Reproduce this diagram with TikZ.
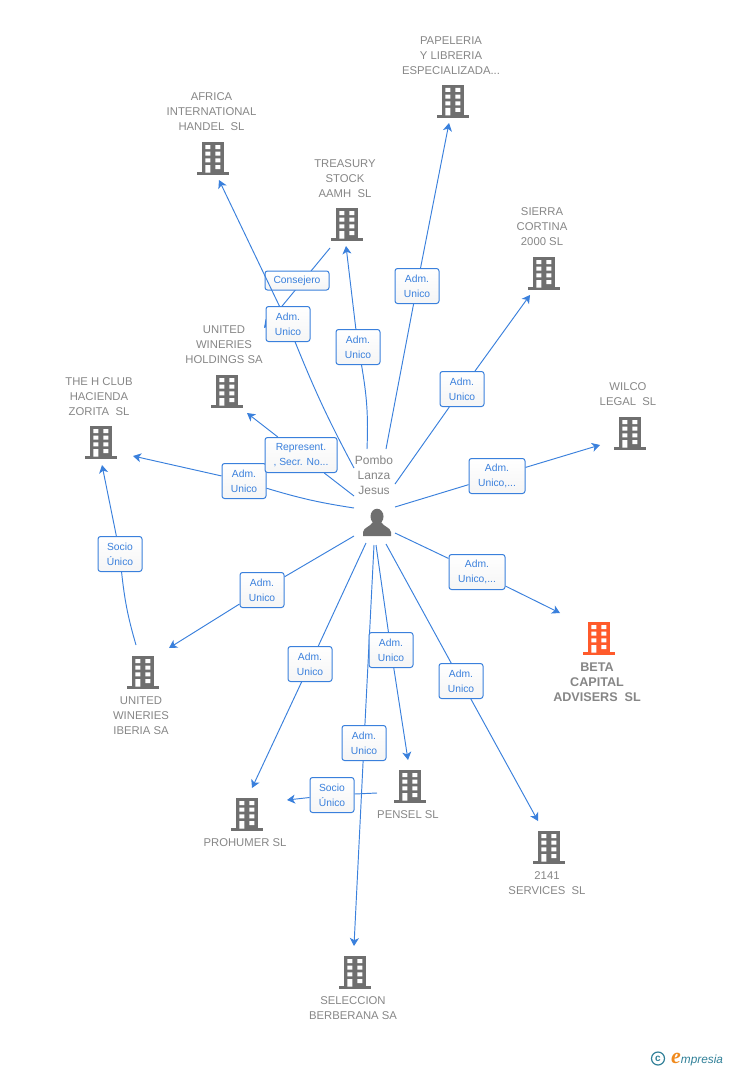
\documentclass[tikz,border=0pt]{standalone}
\usepackage{fontspec}
\setmainfont{Liberation Sans}
\newfontfamily\logofont{Liberation Serif}
\usepackage{xcolor}
\usetikzlibrary{arrows.meta,backgrounds}
\definecolor{linkblue}{HTML}{3A80DC}
\definecolor{bldggrey}{HTML}{6F6F6F}
\definecolor{textgrey}{HTML}{868686}
\definecolor{bldgorange}{HTML}{FF5A2B}
\definecolor{logoteal}{HTML}{2F7F97}
\definecolor{logoorange}{HTML}{F08A1D}
\tikzset{
  link/.style={draw=linkblue, line width=.95pt},
  tolink/.style={link, -{Stealth[length=8pt,width=9pt,inset=2.2pt]}},
  rel/.style={draw=linkblue, line width=1pt, rounded corners=2.5pt, top color=white, bottom color=white!96!black,
    text=linkblue, align=center, inner sep=0pt, minimum height=35pt, minimum width=44pt,
    font=\fontsize{10.3}{15}\selectfont},
  firm/.style={text=textgrey, align=center, inner sep=0pt, font=\fontsize{11.3}{15}\selectfont},
  bldg/.pic={
    \fill[pic actions] (-16,-3) rectangle (16,0);
    \fill[pic actions] (-11,-33) rectangle (11,-2);
    \fill[white] (-7.7,-30) rectangle (-2.7,-26) (2.3,-30) rectangle (7.3,-26);
    \fill[white] (-7.7,-23.3) rectangle (-2.7,-19.3) (2.3,-23.3) rectangle (7.3,-19.3);
    \fill[white] (-7.7,-16.7) rectangle (-2.7,-12.7) (2.3,-16.7) rectangle (7.3,-12.7);
    \fill[white] (-7.7,-10) rectangle (-2.7,-2.5) (2.3,-10) rectangle (7.3,-6);
  }
}
\begin{document}
\begin{tikzpicture}[x=1pt, y=-1pt]
      \useasboundingbox (0,0) rectangle (728,1070);
      % firms
      \node[firm] (papeleria) at (451,56) {PAPELERIA\\Y LIBRERIA\\ESPECIALIZADA...};
      \node[firm] (africa) at (211.5,112) {AFRICA\\INTERNATIONAL\\HANDEL~~SL};
      \node[firm] (treasury) at (345,179) {TREASURY\\STOCK\\AAMH~~SL};
      \node[firm] (sierra) at (542,227) {SIERRA\\CORTINA\\2000 SL};
      \node[firm] (wilco) at (628,394.5) {WILCO\\LEGAL~~SL};
      \node[firm] (holdings) at (224,345) {UNITED\\WINERIES\\HOLDINGS SA};
      \node[firm] (hacienda) at (99,397) {THE H CLUB\\HACIENDA\\ZORITA~~SL};
      \node[firm] (iberia) at (141,716) {UNITED\\WINERIES\\IBERIA SA};
      \node[firm, font=\fontsize{12.6}{15}\selectfont\bfseries] (beta) at (597,682) {BETA\\CAPITAL\\ADVISERS~~SL};
      \node[firm] (pensel) at (408,815) {PENSEL SL};
      \node[firm] (services) at (547,883.5) {2141\\SERVICES~~SL};
      \node[firm] (prohumer) at (245,843) {PROHUMER SL};
      \node[firm] (seleccion) at (353,1008.5) {SELECCION\\BERBERANA SA};
      \node[firm, text=bldggrey!85!white, font=\fontsize{12}{15}\selectfont] (pombo) at (374,475) {Pombo\\Lanza\\Jesus};
      \pic[fill=bldggrey] at (453,118) {bldg};
      \pic[fill=bldggrey] at (213,175) {bldg};
      \pic[fill=bldggrey] at (347,241) {bldg};
      \pic[fill=bldggrey] at (544,290) {bldg};
      \pic[fill=bldggrey] at (630,450) {bldg};
      \pic[fill=bldggrey] at (227,408) {bldg};
      \pic[fill=bldggrey] at (101,459) {bldg};
      \pic[fill=bldggrey] at (143,689) {bldg};
      \pic[fill=bldgorange] at (599,655) {bldg};
      \pic[fill=bldggrey] at (410,803) {bldg};
      \pic[fill=bldggrey] at (549,864) {bldg};
      \pic[fill=bldggrey] at (247,831) {bldg};
      \pic[fill=bldggrey] at (355,989) {bldg};
      % person
      \fill[bldggrey] (377,516.5) ellipse (6.5 and 7.8);
      \fill[bldggrey] (363,536) -- (363,532) .. controls (364,527) and (370,527) .. (373,522) -- (381,522) .. controls (384,527) and (390,527) .. (391,532) -- (391,536) -- cycle;
      % relation boxes
      \node[rel] (admAfrica) at (288,324) {Adm.\\Unico};
      \node[rel] (admTreasury) at (358,347) {Adm.\\Unico};
      \node[rel] (admPapeleria) at (417,286) {Adm.\\Unico};
      \node[rel] (admSierra) at (462,389) {Adm.\\Unico};
      \node[rel, minimum width=56pt] (admWilco) at (497,476) {Adm.\\Unico,...};
      \node[rel, minimum width=56pt] (admBeta) at (477,572) {Adm.\\Unico,...};
      \node[rel] (admServices) at (461,681) {Adm.\\Unico};
      \node[rel] (admPensel) at (391,650) {Adm.\\Unico};
      \node[rel] (admSeleccion) at (364,743) {Adm.\\Unico};
      \node[rel] (admProhumer) at (310,664) {Adm.\\Unico};
      \node[rel] (admIberia) at (262,590) {Adm.\\Unico};
      \node[rel] (admHacienda) at (244,481) {Adm.\\Unico};
      \node[rel, minimum width=72pt] (repHoldings) at (301,455) {Represent.\\, Secr. No...};
      \node[rel] (socioHacienda) at (120,554) {Socio\\Único};
      \node[rel] (socioProhumer) at (332,795) {Socio\\Único};
      % free ends
      \coordinate (pAfrica) at (354,468);
      \coordinate (pTreasury) at (367,449);
      \coordinate (pPapeleria) at (386,449);
      \coordinate (pSierra) at (395,484);
      \coordinate (pWilco) at (395,507);
      \coordinate (pBeta) at (395,533);
      \coordinate (pServices) at (386,544);
      \coordinate (pPensel) at (376,545);
      \coordinate (pSeleccion) at (374,545);
      \coordinate (pProhumer) at (366,543);
      \coordinate (pIberia) at (354,536);
      \coordinate (pHacienda) at (354,508);
      \coordinate (pHoldings) at (354,496);
      \coordinate (fromTreasury) at (330,248);
      \coordinate (toConsejero) at (264,328);
      \coordinate (fromIberia) at (136,645);
      \coordinate (fromPensel) at (377,793);
      \coordinate (tAfrica) at (219,180);
      \coordinate (tTreasury) at (346,246);
      \coordinate (tPapeleria) at (449,123);
      \coordinate (tSierra) at (530,295);
      \coordinate (tWilco) at (600,445);
      \coordinate (tBeta) at (560,613);
      \coordinate (tServices) at (538,821);
      \coordinate (tPensel) at (408,760);
      \coordinate (tSeleccion) at (354,946);
      \coordinate (tProhumer) at (252,788);
      \coordinate (tIberia) at (169,648);
      \coordinate (tHacienda) at (133,456);
      \coordinate (tHoldings) at (247,413);
      \coordinate (tSocioHacienda) at (102,465);
      \coordinate (tSocioProhumer) at (287,800);
      % connectors
      \begin{scope}[on background layer]
        \draw[tolink] (fromTreasury) to (toConsejero);
        \node[rel, minimum height=19pt, minimum width=64pt] (consejero) at (297,280.5) {Consejero};
        \draw[link] (pAfrica) to[bend left=3] (admAfrica);
        \draw[tolink] (admAfrica) to (tAfrica);
        \draw[link] (pTreasury) to[bend right=6] (admTreasury);
        \draw[tolink] (admTreasury) to (tTreasury);
        \draw[link] (pPapeleria) to (admPapeleria);
        \draw[tolink] (admPapeleria) to (tPapeleria);
        \draw[link] (pSierra) to (admSierra);
        \draw[tolink] (admSierra) to (tSierra);
        \draw[link] (pWilco) to (admWilco);
        \draw[tolink] (admWilco) to (tWilco);
        \draw[link] (pBeta) to (admBeta);
        \draw[tolink] (admBeta) to (tBeta);
        \draw[link] (pServices) to (admServices);
        \draw[tolink] (admServices) to (tServices);
        \draw[link] (pPensel) to (admPensel);
        \draw[tolink] (admPensel) to (tPensel);
        \draw[link] (pSeleccion) to (admSeleccion);
        \draw[tolink] (admSeleccion) to (tSeleccion);
        \draw[link] (pProhumer) to (admProhumer);
        \draw[tolink] (admProhumer) to (tProhumer);
        \draw[link] (pIberia) to (admIberia);
        \draw[tolink] (admIberia) to (tIberia);
        \draw[link] (pHacienda) to[bend left=4] (admHacienda);
        \draw[tolink] (admHacienda) to (tHacienda);
        \draw[link] (pHoldings) to (repHoldings);
        \draw[tolink] (repHoldings) to (tHoldings);
        \draw[link] (fromIberia) to[bend left=5] (socioHacienda);
        \draw[tolink] (socioHacienda) to (tSocioHacienda);
        \draw[link] (fromPensel) to (socioProhumer);
        \draw[tolink] (socioProhumer) to (tSocioProhumer);
      \end{scope}
      % logo
      \node[text=logoteal, inner sep=0pt, circle, draw=logoteal, line width=1.2pt, minimum size=13pt, font=\fontsize{10}{10}\selectfont\bfseries] (copy) at (658,1058.5) {c};
      \node[anchor=base west, inner sep=0pt, text=logoteal, font=\itshape\fontsize{11.8}{12}\selectfont] (logo) at (671,1063) {\textcolor{logoorange}{\logofont\bfseries\fontsize{22}{22}\selectfont e}mpresia};
    \end{tikzpicture}
\end{document}
